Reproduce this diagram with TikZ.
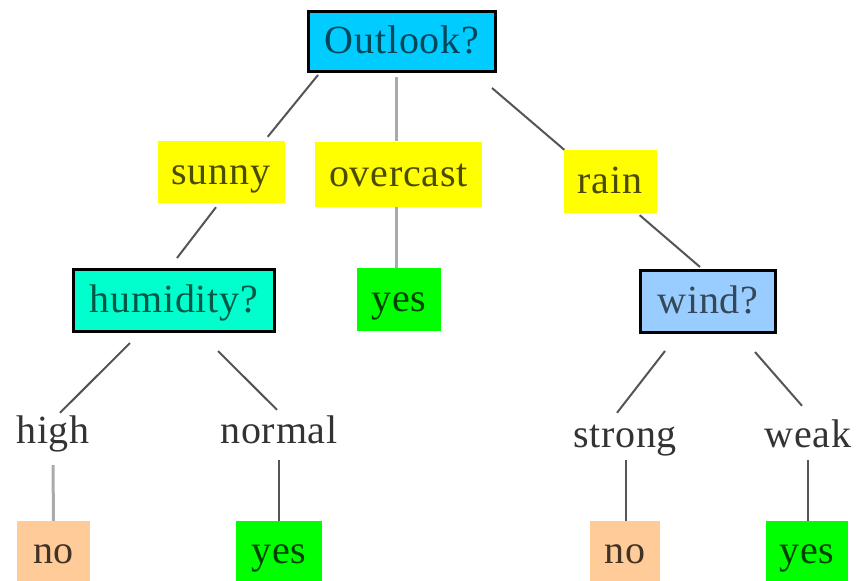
\documentclass[tikz,border=0pt]{standalone}
\usepackage{fontspec}
\setmainfont{Liberation Serif}[LetterSpace=2]
\usetikzlibrary{calc}
\definecolor{cyanfill}{HTML}{00CCFF}
\definecolor{yellowfill}{HTML}{FFFF00}
\definecolor{greenfill}{HTML}{00FF00}
\definecolor{aquafill}{HTML}{00FFCC}
\definecolor{bluefill}{HTML}{99CCFF}
\definecolor{peachfill}{HTML}{FFCC99}
\definecolor{darkedge}{HTML}{555555}
\definecolor{lightedge}{HTML}{AAAAAA}
\tikzset{
  every node/.style={font=\fontsize{40}{48}\selectfont},
  box/.style={rectangle, inner sep=0pt, anchor=center, text height=30pt, text depth=6pt},
  question/.style={box, draw=black, line width=3pt},
  branch/.style={box, fill=yellowfill, text=black!70!yellowfill},
  answeryes/.style={box, fill=greenfill, text=black!75!greenfill},
  answerno/.style={box, fill=peachfill, text=black!75!peachfill},
  label/.style={inner sep=0pt, text height=29pt, text depth=9pt, anchor=base, text=black!80},
  edge/.style={draw=darkedge, line width=2pt},
  lightline/.style={draw=lightedge, line width=3pt},
}
\begin{document}
\begin{tikzpicture}[x=1pt, y=-1pt]
\useasboundingbox (0,0) rectangle (857,581);

% root question
\node[question, fill=cyanfill, text=black!65!cyanfill, minimum width=187pt, minimum height=60pt] (outlook) at (402,41.5) {Outlook?};

% first-level branches
\node[branch, minimum width=127pt, minimum height=62pt] (sunny) at (221,172) {sunny};
\node[branch, minimum width=167pt, minimum height=65pt] (overcast) at (398.5,174) {overcast};
\node[branch, minimum width=93pt, minimum height=63pt] (rain) at (610,181.5) {rain};

% second-level nodes
\node[question, fill=aquafill, text=black!65!aquafill, minimum width=201pt, minimum height=62pt] (humidity) at (174,300.5) {humidity?};
\node[answeryes, minimum width=84pt, minimum height=63pt] (yesovercast) at (399,299.5) {yes};
\node[question, fill=bluefill, text=black!65!bluefill, minimum width=135pt, minimum height=62pt] (wind) at (708,301.5) {wind?};

% attribute values
\node[label] (high) at (53,443) {high};
\node[label] (normal) at (279,443) {normal};
\node[label] (strong) at (625,447) {strong};
\node[label] (weak) at (808,447) {weak};

% leaves
\node[answerno, minimum width=73pt, minimum height=60pt] (nohigh) at (53.5,551) {no};
\node[answeryes, minimum width=86pt, minimum height=60pt] (yesnormal) at (279,551) {yes};
\node[answerno, minimum width=70pt, minimum height=60pt] (nostrong) at (625,551) {no};
\node[answeryes, minimum width=82pt, minimum height=60pt] (yesweak) at (807,551) {yes};

% connectors
\draw[edge] ($(outlook.south west)+(11,2)$) -- ($(sunny.north east)+(-17,-4)$);
\draw[lightline] ($(outlook.south)+(-6,4)$) -- ($(overcast.north)+(-2.5,0)$);
\draw[edge] ($(outlook.south east)+(-5,15)$) -- ($(rain.north west)+(1,0)$);
\draw[edge] ($(sunny.south)+(-5,4)$) -- ($(humidity.north)+(3,-10)$);
\draw[lightline] ($(overcast.south)+(-2.5,0)$) -- ($(yesovercast.north)+(-3,0)$);
\draw[edge] ($(rain.south east)+(-17,2)$) -- ($(wind.north)+(-8,-2)$);
\draw[edge] ($(humidity.south)+(-44,10)$) -- ($(high.north)+(7,-1)$);
\draw[edge] ($(humidity.south)+(44,18)$) -- ($(normal.north)+(-2,-4)$);
\draw[lightline] ($(high.south)+(0,13)$) -- (nohigh.north);
\draw[edge] ($(normal.south)+(0,8)$) -- (yesnormal.north);
\draw[edge] ($(wind.south)+(-43,17)$) -- ($(strong.north)+(-8,-5)$);
\draw[edge] ($(wind.south)+(47,18)$) -- ($(weak.north)+(-6,-12)$);
\draw[edge] ($(strong.south)+(1,4)$) -- ($(nostrong.north)+(1,0)$);
\draw[edge] ($(weak.south)+(0,4)$) -- ($(yesweak.north)+(1,0)$);
\end{tikzpicture}
\end{document}
